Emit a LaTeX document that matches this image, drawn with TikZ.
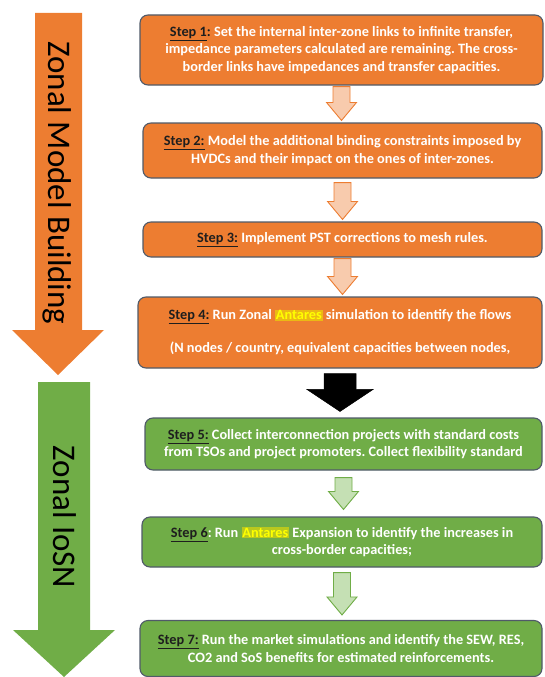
\documentclass[tikz,border=0pt]{standalone}
\usepackage{fontspec}
\setmainfont{Carlito}
\usetikzlibrary{calc}
\frenchspacing
\definecolor{zorange}{HTML}{ED7D31}
\definecolor{zgreen}{HTML}{70AD47}
\definecolor{lorange}{HTML}{F8CBAD}
\definecolor{lgreen}{HTML}{C5E0B4}
\definecolor{bord}{RGB}{80,90,105}
\definecolor{hlA}{RGB}{235,185,20}
\definecolor{hlB}{RGB}{185,200,30}
\definecolor{hltext}{RGB}{255,255,0}
\definecolor{steptxt}{RGB}{30,30,30}
\newcommand\stp[1]{\textcolor{steptxt}{\underline{#1}}}
\newcommand\hlant[1]{{\setlength\fboxsep{0.8pt}\colorbox{#1}{\textcolor{hltext}{Antares}}}}
\newlength\sw \newlength\hw \newlength\hl
\newcommand\blkarr[5]{% from, to, style, top gap, bottom gap
  \draw[#3] let \p1=(#1.south), \p2=(#2.north) in
   (\x1-\sw,\y1-#4) -- (\x1+\sw,\y1-#4) -- (\x1+\sw,\y2+#5+\hl) -- (\x1+\hw,\y2+#5+\hl)
   -- (\x1,\y2+#5) -- (\x1-\hw,\y2+#5+\hl) -- (\x1-\sw,\y2+#5+\hl) -- cycle;}
\tikzset{
  stepbox/.style={draw=bord, line width=1.1pt, rounded corners=8pt, align=center,
    text=white, font=\fontsize{14.3}{17.5}\selectfont\bfseries, inner sep=0pt},
  obox/.style={stepbox, fill=zorange},
  gbox/.style={stepbox, fill=zgreen},
  oarr/.style={fill=lorange, draw=zorange, line width=0.9pt},
  garr/.style={fill=lgreen, draw=zgreen, line width=0.9pt},
  karr/.style={fill=black, draw=black, line width=0.5pt},
  biglabel/.style={rotate=-90, text=black, font=\fontsize{33}{34}\selectfont, inner sep=0pt}
}
\begin{document}
\begin{tikzpicture}[x=1pt,y=-1pt]
\useasboundingbox (0,0) rectangle (544,677);
% big side arrows
\fill[zorange] (35,13) -- (82,13) -- (82,330) -- (104,330) -- (58,375) -- (12,330) -- (35,330) -- cycle;
\fill[zgreen] (38,382) -- (90,382) -- (90,630) -- (115,630) -- (64,677) -- (13,630) -- (38,630) -- cycle;
\node[biglabel] (zmb) at (57,183) {Zonal Model Building};
\node[biglabel] (zio) at (65,517) {Zonal IoSN};
% step boxes
\node[obox, minimum width=403pt, minimum height=70pt] (s1) at (341.5,50)
 {\stp{Step 1}\textcolor{steptxt}{:} Set the internal inter-zone links to infinite transfer,\\
  impedance parameters calculated are remaining. The cross-\\
  border links have impedances and transfer capacities.};
\node[obox, minimum width=399pt, minimum height=55pt] (s2) at (342.5,150.5)
 {\stp{Step 2:} Model the additional binding constraints imposed by\\
  HVDCs and their impact on the ones of inter-zones.};
\node[obox, minimum width=399pt, minimum height=35pt] (s3) at (342.5,239.5)
 {\stp{Step 3:} Implement PST corrections to mesh rules.};
\node[obox, minimum width=404pt, minimum height=71pt] (s4) at (340,332.5)
 {\stp{Step 4:} Run Zonal \hlant{hlA} simulation to identify the flows\\[15.5pt]
  (N nodes / country, equivalent capacities between nodes,};
\node[gbox, minimum width=397pt, minimum height=52pt] (s5) at (343.5,444)
 {\stp{Step 5:} Collect interconnection projects with standard costs\\
  from TSOs and project promoters. Collect flexibility standard};
\node[gbox, minimum width=400pt, minimum height=50pt] (s6) at (342,542)
 {\stp{Step 6}: Run \hlant{hlB} Expansion to identify the increases in\\
  cross-border capacities;};
\node[gbox, minimum width=402pt, minimum height=56pt] (s7) at (341,648.5)
 {\stp{Step 7:} Run the market simulations and identify the SEW, RES,\\
  CO2 and SoS benefits for estimated reinforcements.};
% connectors
\setlength\sw{8.5pt}\setlength\hw{15pt}\setlength\hl{18pt}
\blkarr{s1}{s2}{oarr}{1pt}{2pt}
\blkarr{s2}{s3}{oarr}{4pt}{2pt}
\blkarr{s3}{s4}{oarr}{1pt}{2pt}
\blkarr{s5}{s6}{garr}{7pt}{7pt}
\blkarr{s6}{s7}{garr}{5pt}{5pt}
\setlength\sw{16pt}\setlength\hw{33pt}\setlength\hl{22pt}
\blkarr{s4}{s5}{karr}{5pt}{6pt}
\end{tikzpicture}
\end{document}
